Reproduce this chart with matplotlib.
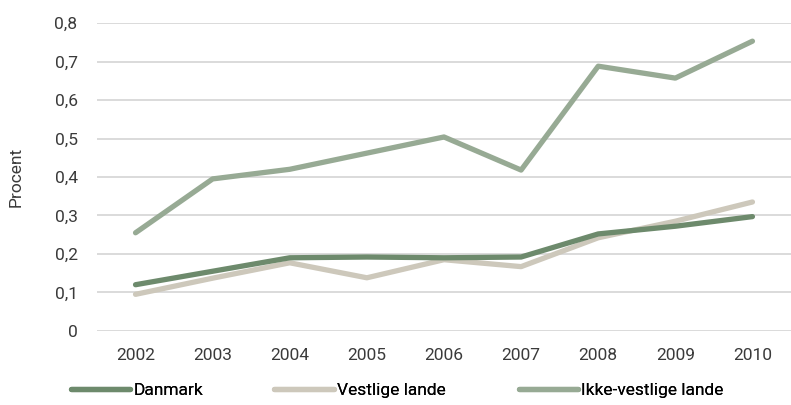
import matplotlib
matplotlib.use("Agg")
import matplotlib.pyplot as plt
from matplotlib.ticker import FuncFormatter

years = [2002, 2003, 2004, 2005, 2006, 2007, 2008, 2009, 2010]
danmark = [0.120, 0.155, 0.190, 0.192, 0.190, 0.192, 0.252, 0.272, 0.297]
vestlige = [0.095, 0.137, 0.177, 0.138, 0.185, 0.167, 0.242, 0.285, 0.335]
ikke_vestlige = [0.255, 0.395, 0.420, 0.462, 0.504, 0.418, 0.688, 0.657, 0.753]

plt.rcParams['font.family'] = ['Roboto', 'DejaVu Sans']

fig = plt.figure(figsize=(7.91, 4.05), dpi=100)
ax = fig.add_axes([0.1226, 0.183, 0.8774, 0.760])

h1, = ax.plot(years, danmark, color="#6d8a6c", lw=3.8, solid_capstyle="round", solid_joinstyle="round", label="Danmark", zorder=3)
h2, = ax.plot(years, vestlige, color="#cdc8bb", lw=3.8, solid_capstyle="round", solid_joinstyle="round", label="Vestlige lande", zorder=2)
h3, = ax.plot(years, ikke_vestlige, color="#97aa94", lw=3.8, solid_capstyle="round", solid_joinstyle="round", label="Ikke-vestlige lande", zorder=2)

ax.set_xlim(2001.5, 2010.5)
ax.set_ylim(0, 0.8)
ax.set_xticks(years)
ax.set_yticks([i / 10 for i in range(9)])
ax.yaxis.set_major_formatter(FuncFormatter(lambda v, p: "0" if v == 0 else ("%.1f" % v).replace(".", ",")))
ax.grid(axis="y", color="#d4d4d4", lw=1.2)
ax.set_axisbelow(True)
for s in ax.spines.values():
    s.set_visible(False)
ax.tick_params(axis="both", length=0, labelsize=12.5, colors="#3a3a3a")
ax.tick_params(axis="x", pad=12)
ax.tick_params(axis="y", pad=14)
ax.set_ylabel("Procent", fontsize=12.5, color="#3a3a3a", labelpad=22)

# one legend per entry, to match the spacing of the original
for h, x in [(h1, 0.090), (h2, 0.347), (h3, 0.656)]:
    leg = fig.legend(handles=[h], loc="center left", bbox_to_anchor=(x, 0.037), frameon=False,
                     fontsize=12.5, handlelength=3.4, handletextpad=0.2, borderaxespad=0, borderpad=0)
    fig.add_artist(leg)

fig.savefig("out.png", dpi=100)
